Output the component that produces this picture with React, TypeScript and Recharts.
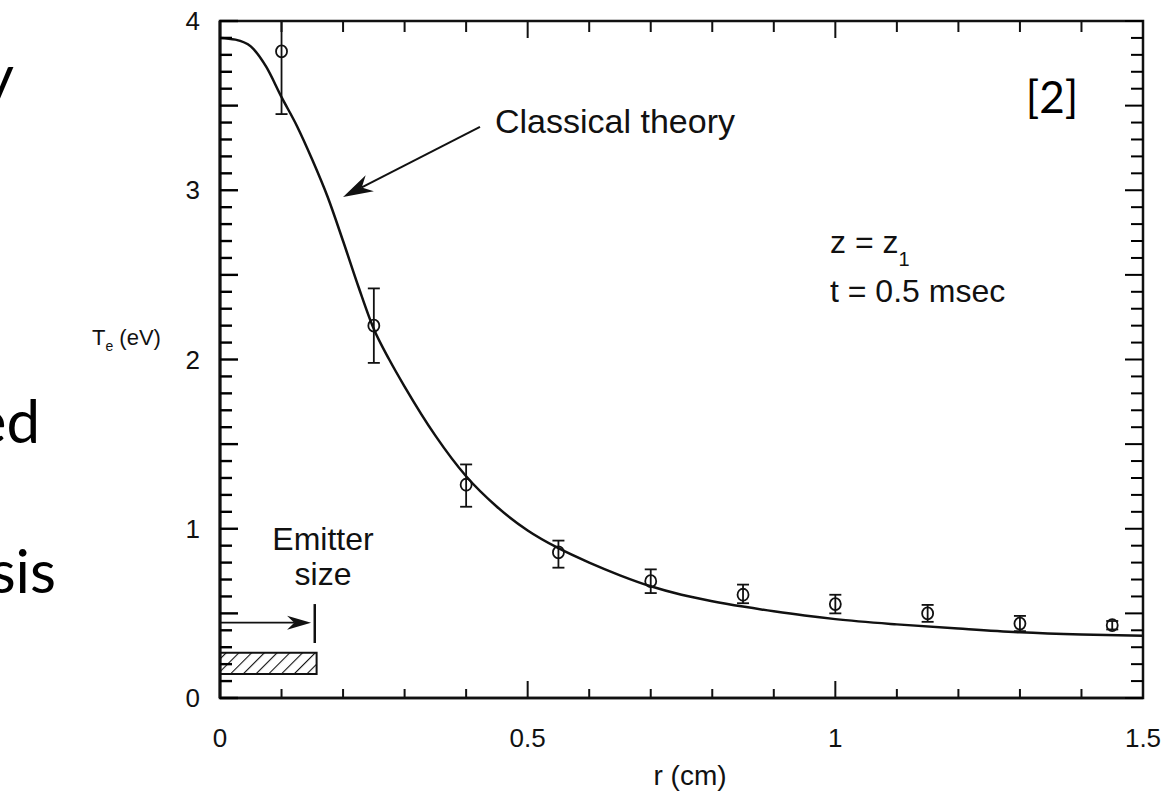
import {
  ComposedChart,
  ErrorBar,
  Line,
  ReferenceArea,
  ReferenceLine,
  Scatter,
  XAxis,
  YAxis,
} from "recharts";

// theory curve
const curveR = [0, 0.025, 0.05, 0.075, 0.1, 0.125, 0.15, 0.175, 0.2, 0.225, 0.25, 0.275, 0.3, 0.35, 0.4, 0.45, 0.5, 0.55, 0.6, 0.65, 0.7, 0.75, 0.8, 0.85, 0.9, 0.95, 1.0, 1.1, 1.2, 1.3, 1.4, 1.5];
const curveT = [3.9, 3.89, 3.85, 3.73, 3.55, 3.38, 3.18, 2.96, 2.7, 2.43, 2.18, 2.0, 1.84, 1.55, 1.31, 1.13, 0.99, 0.885, 0.8, 0.725, 0.66, 0.61, 0.572, 0.54, 0.512, 0.487, 0.466, 0.435, 0.41, 0.388, 0.375, 0.368];

// measured points
const pointR = [0.1, 0.25, 0.4, 0.55, 0.7, 0.85, 1.0, 1.15, 1.3, 1.45];
const pointT = [3.82, 2.2, 1.26, 0.86, 0.69, 0.61, 0.555, 0.5, 0.44, 0.43];
const errLow = [0.37, 0.22, 0.13, 0.09, 0.07, 0.05, 0.055, 0.05, 0.045, 0.025];
const errHigh = [0.18, 0.22, 0.12, 0.07, 0.07, 0.06, 0.055, 0.05, 0.045, 0.025];

// axes
const xTicks = [0, 0.1, 0.2, 0.3, 0.4, 0.5, 0.6, 0.7, 0.8, 0.9, 1.0, 1.1, 1.2, 1.3, 1.4, 1.5];
const xMajor = [0, 0.5, 1, 1.5];
const xLabels = ["0", "0.5", "1", "1.5"];
const yTicks = [0, 0.1, 0.2, 0.3, 0.4, 0.5, 0.6, 0.7, 0.8, 0.9, 1, 1.1, 1.2, 1.3, 1.4, 1.5, 1.6, 1.7, 1.8, 1.9, 2, 2.1, 2.2, 2.3, 2.4, 2.5, 2.6, 2.7, 2.8, 2.9, 3, 3.1, 3.2, 3.3, 3.4, 3.5, 3.6, 3.7, 3.8, 3.9, 4];
const yHalf = [0, 0.5, 1, 1.5, 2, 2.5, 3, 3.5, 4];
const yMajor = [0, 1, 2, 3, 4];
const yLabels = ["0", "1", "2", "3", "4"];

// annotation anchors (data units)
const classicalArrow = [{ x: 0.4225, y: 3.374 }, { x: 0.2, y: 2.96 }];
const emitterArrow = [{ x: 0, y: 0.445 }, { x: 0.148, y: 0.445 }];
const emitterBar = [{ x: 0.154, y: 0.555 }, { x: 0.154, y: 0.325 }];
const emitterBox = { x1: 0, x2: 0.157, y1: 0.142, y2: 0.268 };

const curveData = curveR.map((r, i) => ({ r, t: curveT[i] }));
const pointData = pointR.map((r, i) => ({ r, t: pointT[i], err: [errLow[i], errHigh[i]] }));

const INK = "#111";
const FONT = "'Liberation Sans', Arial, Helvetica, sans-serif";
const SLIDE = "Lato, 'Open Sans', sans-serif";

// plot box, in px
const W = 1175;
const H = 796;
const M = { top: 21, right: 32, bottom: 98, left: 220 };
const PW = W - M.left - M.right;
const PH = H - M.top - M.bottom;

const near = (list: number[], v: number) => list.findIndex((m) => Math.abs(m - v) < 1e-6);

// bottom axis tick also draws its mirror on the top frame
function XTick({ x, y, payload }: any) {
  const i = near(xMajor, payload.value);
  const top = y - PH;
  return (
    <g>
      <line x1={x} x2={x} y1={y} y2={y - (i >= 0 ? 17 : 9)} stroke={INK} strokeWidth={2} />
      <line x1={x} x2={x} y1={top} y2={top + (i >= 0 ? 17 : 11)} stroke={INK} strokeWidth={2} />
      {i >= 0 && (
        <text x={x} y={y + 49} textAnchor="middle" fontSize={26} fontFamily={FONT} fill={INK}>
          {xLabels[i]}
        </text>
      )}
    </g>
  );
}

// left axis tick also draws its mirror on the right frame
function YTick({ x, y, payload }: any) {
  const i = near(yMajor, payload.value);
  const len = near(yHalf, payload.value) >= 0 ? 18 : 12;
  const left = M.left;
  const right = M.left + PW;
  return (
    <g>
      <line x1={left} x2={left + len} y1={y} y2={y} stroke="#000" strokeWidth={2.4} />
      <line x1={right} x2={right - len} y1={y} y2={y} stroke="#000" strokeWidth={2} />
      {i >= 0 && (
        <text x={left - 20} y={y + 9} textAnchor="end" fontSize={26} fontFamily={FONT} fill={INK}>
          {yLabels[i]}
        </text>
      )}
    </g>
  );
}

const arrow = (head: number, half: number, width: number) => (p: any) => {
  const { x1, y1, x2, y2 } = p;
  const dx = x2 - x1;
  const dy = y2 - y1;
  const len = Math.hypot(dx, dy) || 1;
  const ux = dx / len;
  const uy = dy / len;
  const bx = x2 - ux * head;
  const by = y2 - uy * head;
  const nx = -uy * half;
  const ny = ux * half;
  const mx = bx + ux * head * 0.3;
  const my = by + uy * head * 0.3;
  return (
    <g>
      <line x1={x1} y1={y1} x2={mx} y2={my} stroke={INK} strokeWidth={width} />
      <polygon points={`${x2},${y2} ${bx + nx},${by + ny} ${mx},${my} ${bx - nx},${by - ny}`} fill={INK} />
    </g>
  );
};

const Dot = ({ cx, cy }: any) => (
  <ellipse cx={cx} cy={cy} rx={5.5} ry={6} fill="none" stroke={INK} strokeWidth={1.8} />
);

export default function App() {
  return (
    <div style={{ position: "absolute", left: 0, top: 0, width: W, height: H, background: "#fff" }}>
      <ComposedChart width={W} height={H}
        margin={{ top: M.top, right: M.right, bottom: M.bottom - 1, left: M.left - 1 }}>
        <defs>
          <pattern id="hatch" width="9" height="9" patternUnits="userSpaceOnUse" patternTransform="rotate(45)">
            <line x1="0" y1="0" x2="0" y2="9" stroke={INK} strokeWidth="2.2" />
          </pattern>
        </defs>

        {/* frame */}
        <ReferenceArea x1={0} x2={1.5} y1={0} y2={4} fill="none" stroke={INK} strokeWidth={2.5} />

        <ReferenceArea {...emitterBox} fill="url(#hatch)" fillOpacity={1} stroke={INK} strokeWidth={2} />
        <ReferenceLine segment={emitterArrow} shape={arrow(24, 7, 1.8)} />
        <ReferenceLine segment={emitterBar} stroke={INK} strokeWidth={2.5} />
        <ReferenceLine segment={classicalArrow} shape={arrow(30, 9, 2)} />

        <Line data={curveData} dataKey="t" type="monotone" stroke={INK} strokeWidth={2.5}
          dot={false} isAnimationActive={false} />
        <Scatter data={pointData} dataKey="t" shape={<Dot />} isAnimationActive={false}>
          <ErrorBar dataKey="err" direction="y" width={6} stroke={INK} strokeWidth={1.8} isAnimationActive={false} />
        </Scatter>

        <XAxis dataKey="r" type="number" domain={[0, 1.5]} ticks={xTicks} interval={0} height={1}
          tickSize={0} tickMargin={0} tick={<XTick />} axisLine={{ stroke: INK, strokeWidth: 2.5 }} />
        <YAxis dataKey="t" type="number" domain={[0, 4]} ticks={yTicks} interval={0} width={1}
          tickSize={0} tickMargin={0} tick={<YTick />} axisLine={{ stroke: INK, strokeWidth: 3 }} />
      </ComposedChart>

      <svg width={W} height={H} style={{ position: "absolute", left: 0, top: 0, pointerEvents: "none" }}>
        <g fontFamily={SLIDE} fontSize={60} fill="#000">
          <text x={14} y={98} textAnchor="end">y</text>
          <text x={40} y={443} textAnchor="end">ed</text>
          <text x={56} y={593} textAnchor="end">sis</text>
        </g>
        <text x={1052} y={113} textAnchor="middle" fontFamily={SLIDE} fontSize={44} fill="#000">[2]</text>
        <g fontFamily={FONT} fill={INK}>
          <text x={92} y={345} fontSize={22}>
            T<tspan fontSize={14} dy={6}>e</tspan><tspan dy={-6}> (eV)</tspan>
          </text>
          <text x={495} y={133} fontSize={34}>Classical theory</text>
          <text x={830} y={253} fontSize={32}>
            z = z<tspan fontSize={20} dy={13}>1</tspan>
          </text>
          <text x={830} y={302} fontSize={32}>t = 0.5 msec</text>
          <text x={323} y={550} fontSize={32} textAnchor="middle">Emitter</text>
          <text x={323} y={585} fontSize={32} textAnchor="middle">size</text>
          <text x={690} y={785} fontSize={28} textAnchor="middle">r (cm)</text>
        </g>
      </svg>
    </div>
  );
}
